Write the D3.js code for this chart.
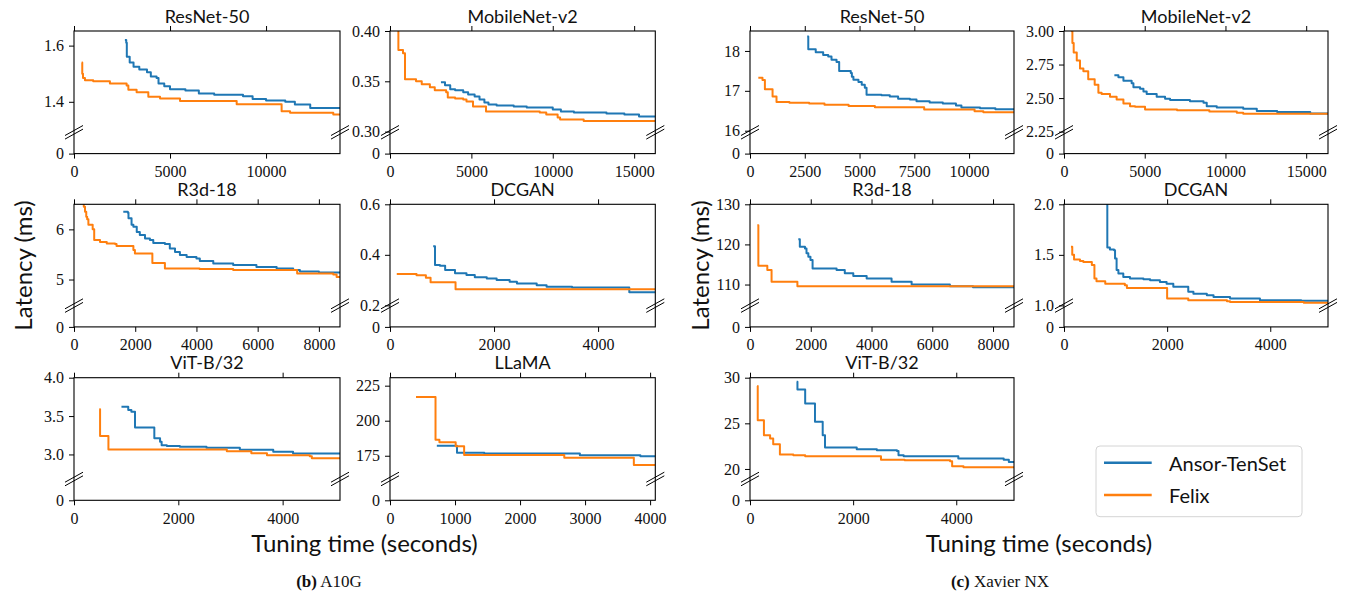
<!DOCTYPE html>
<html><head><meta charset="utf-8">
<script src="https://cdn.jsdelivr.net/npm/d3@7"></script>
<style>body{margin:0;background:#fff}</style>
</head><body>
<svg id="chart" width="1348" height="597"></svg>
<script>
// ---------------- data ----------------
const seriesNames = ["Ansor-TenSet", "Felix"];
const seriesColors = ["#1f77b4", "#ff7f0e"];
const modelTitles = ["ResNet-50","MobileNet-v2","R3d-18","DCGAN","ViT-B/32","LLaMA",
                     "ResNet-50","MobileNet-v2","R3d-18","DCGAN","ViT-B/32"];
const yAxisTitle = "Latency (ms)";
const xAxisTitle = "Tuning time (seconds)";
const captionBold = ["(b)", "(c)"];
const captionText = [" A10G", " Xavier NX"];

// A10G
const a10gResnetAnsor = [[2650,1.62],[2720,1.61],[2750,1.56],[2900,1.54],[3100,1.525],[3400,1.515],[3800,1.505],[4000,1.49],[4300,1.485],[4400,1.465],[4700,1.455],[5000,1.445],[5800,1.44],[6500,1.43],[7300,1.425],[8800,1.42],[9300,1.41],[10000,1.405],[11000,1.40],[11500,1.39],[12300,1.378],[13850,1.376]];
const a10gResnetFelix = [[400,1.54],[430,1.50],[470,1.485],[570,1.477],[1000,1.473],[1870,1.465],[2740,1.458],[2830,1.443],[3260,1.434],[3870,1.418],[4480,1.412],[5520,1.403],[8470,1.391],[10810,1.366],[11250,1.361],[13500,1.355],[13850,1.355]];
const a10gMobileAnsor = [[3130,0.349],[3380,0.346],[3700,0.342],[4000,0.341],[4500,0.339],[4800,0.337],[5200,0.335],[5500,0.332],[5800,0.329],[6050,0.327],[6550,0.326],[7600,0.325],[8400,0.324],[10000,0.322],[10500,0.320],[11300,0.319],[13300,0.318],[14400,0.317],[15300,0.315],[16300,0.3145]];
const a10gMobileFelix = [[505,0.45],[515,0.381],[800,0.378],[920,0.352],[1600,0.350],[1950,0.347],[2450,0.344],[2750,0.341],[3450,0.339],[3550,0.334],[4000,0.333],[4500,0.332],[4700,0.330],[5100,0.325],[5900,0.320],[9200,0.319],[9600,0.317],[10300,0.314],[10450,0.312],[11900,0.3105],[16300,0.3105]];
const a10gR3dAnsor = [[1610,6.35],[1760,6.33],[1780,6.22],[1880,6.09],[1940,6.05],[2050,5.95],[2150,5.89],[2320,5.82],[2480,5.79],[2590,5.73],[2970,5.71],[3130,5.62],[3300,5.55],[3460,5.49],[3680,5.45],[4000,5.42],[4110,5.37],[4550,5.32],[5200,5.29],[5960,5.25],[6620,5.22],[7160,5.19],[7380,5.16],[8000,5.14],[8690,5.14]];
const a10gR3dFelix = [[300,6.7],[320,6.45],[360,6.35],[400,6.25],[430,6.2],[470,6.09],[610,6.0],[660,5.79],[850,5.75],[1070,5.72],[1340,5.71],[1390,5.67],[1940,5.59],[1990,5.52],[2560,5.33],[2970,5.22],[4100,5.21],[5200,5.19],[7290,5.12],[8470,5.10],[8580,5.05],[8690,5.04]];
const a10gDcganAnsor = [[830,0.434],[865,0.36],[960,0.357],[1060,0.34],[1250,0.327],[1470,0.32],[1630,0.311],[1860,0.306],[2050,0.30],[2300,0.293],[2440,0.286],[2820,0.28],[3010,0.274],[3500,0.271],[4600,0.252],[5100,0.252]];
const a10gDcganFelix = [[130,0.324],[510,0.319],[690,0.309],[780,0.291],[1260,0.264],[5100,0.264]];
const a10gVitAnsor = [[910,3.62],[1040,3.58],[1100,3.555],[1170,3.35],[1540,3.21],[1650,3.165],[1680,3.12],[1780,3.11],[2030,3.10],[2540,3.087],[3180,3.06],[3820,3.035],[4200,3.012],[5100,3.005]];
const a10gVitFelix = [[485,3.59],[500,3.24],[660,3.065],[2930,3.04],[3400,3.015],[3700,2.99],[4520,2.975],[4560,2.95],[5100,2.95]];
const a10gLlamaAnsor = [[720,182.2],[1030,177.1],[1450,176.6],[2920,175.3],[3850,174.6],[4080,174.3]];
const a10gLlamaFelix = [[400,217],[700,186.5],[760,184.7],[1010,181.8],[1140,175.5],[2680,173.6],[3750,168.4],[4080,168.4]];
// Xavier NX
const xavResnetAnsor = [[2610,18.36],[2660,18.04],[3000,17.97],[3340,17.9],[3570,17.86],[3720,17.78],[3950,17.72],[4070,17.5],[4600,17.45],[4650,17.35],[4720,17.28],[4950,17.22],[5100,17.15],[5240,17.08],[5320,16.9],[6000,16.89],[6380,16.86],[6760,16.8],[7300,16.78],[7600,16.74],[8200,16.71],[8800,16.68],[9400,16.63],[9650,16.58],[10500,16.56],[11200,16.54],[12050,16.54]];
const xavResnetFelix = [[380,17.33],[570,17.27],[680,17.04],[1030,16.86],[1210,16.72],[1800,16.7],[2700,16.68],[3400,16.65],[4500,16.62],[5700,16.59],[7950,16.53],[10250,16.49],[10650,16.46],[12050,16.46]];
const xavMobileAnsor = [[3120,2.67],[3370,2.655],[3680,2.63],[4190,2.61],[4300,2.58],[4710,2.57],[4920,2.55],[5120,2.53],[5740,2.51],[6260,2.495],[6570,2.485],[7800,2.477],[8640,2.465],[8840,2.44],[9460,2.43],[11100,2.42],[11940,2.403],[13200,2.396],[15250,2.386],[16350,2.383]];
const xavMobileFelix = [[470,3.3],[480,3.0],[520,2.91],[600,2.84],[790,2.78],[990,2.72],[1200,2.70],[1500,2.64],[1900,2.60],[2130,2.54],[2330,2.53],[2850,2.51],[3260,2.49],[3680,2.46],[4090,2.44],[4400,2.435],[5020,2.415],[7000,2.41],[9000,2.40],[10700,2.39],[11100,2.383],[16350,2.376]];
const xavR3dAnsor = [[1590,121.3],[1640,119.4],[1810,119.0],[1860,117.8],[1920,116.9],[1990,116.1],[2060,114.0],[2850,113.6],[3120,112.8],[3400,112.1],[3840,111.5],[4660,110.7],[5320,110.0],[6580,109.6],[7340,109.3],[8690,109.3]];
const xavR3dFelix = [[240,124.8],[275,114.7],[570,113.6],[710,110.7],[1560,109.6],[8690,109.6]];
const xavDcganAnsor = [[828,2.6],[840,1.573],[890,1.553],[970,1.546],[990,1.464],[1020,1.35],[1055,1.315],[1150,1.282],[1280,1.265],[1540,1.259],[1670,1.249],[1860,1.232],[1990,1.215],[2120,1.185],[2410,1.135],[2510,1.116],[2770,1.10],[2900,1.083],[3220,1.067],[3800,1.05],[4600,1.045],[5120,1.04]];
const xavDcganFelix = [[135,1.58],[160,1.50],[195,1.455],[310,1.44],[375,1.43],[540,1.40],[590,1.265],[630,1.24],[800,1.215],[1180,1.20],[1220,1.172],[2000,1.067],[2410,1.05],[3160,1.04],[3220,1.033],[4650,1.027],[5120,1.025]];
const xavVitAnsor = [[905,29.56],[920,28.72],[1070,27.18],[1260,25.17],[1410,23.7],[1455,22.34],[2070,22.16],[2460,22.05],[2850,21.98],[2880,21.5],[2980,21.4],[4040,21.14],[4920,21.0],[5020,20.77],[5120,20.7]];
const xavVitFelix = [[140,29.1],[150,25.35],[270,23.7],[390,23.33],[450,22.7],[580,21.58],[840,21.5],[1070,21.4],[2540,21.0],[3000,20.95],[3880,20.85],[3920,20.3],[4140,20.2],[5120,20.2]];

// tick labels per panel (same order as modelTitles)
const xTickLabels = [
  ["0","5000","10000"], ["0","5000","10000","15000"], ["0","2000","4000","6000","8000"],
  ["0","2000","4000"], ["0","2000","4000"], ["0","1000","2000","3000","4000"],
  ["0","2500","5000","7500","10000"], ["0","5000","10000","15000"], ["0","2000","4000","6000","8000"],
  ["0","2000","4000"], ["0","2000","4000"]];
const yTickLabels = [
  ["1.4","1.6"], ["0.30","0.35","0.40"], ["5","6"], ["0.2","0.4","0.6"], ["3.0","3.5","4.0"], ["175","200","225"],
  ["16","17","18"], ["2.25","2.50","2.75","3.00"], ["110","120","130"], ["1.0","1.5","2.0"], ["20","25","30"]];
const xMax = [13850, 16300, 8690, 5100, 5100, 4080, 12050, 16350, 8690, 5120, 5120];
const yLow  = [1.2915, 0.2993, 4.48, 0.199, 2.68, 158.4, 15.96, 2.245, 104.75, 0.998, 18.9];
const yHigh = [1.652, 0.400, 6.50, 0.600, 4.00, 230.7, 18.50, 3.000, 130.0, 2.000, 30.0];
const ansorSeries = [a10gResnetAnsor,a10gMobileAnsor,a10gR3dAnsor,a10gDcganAnsor,a10gVitAnsor,a10gLlamaAnsor,
                     xavResnetAnsor,xavMobileAnsor,xavR3dAnsor,xavDcganAnsor,xavVitAnsor];
const felixSeries = [a10gResnetFelix,a10gMobileFelix,a10gR3dFelix,a10gDcganFelix,a10gVitFelix,a10gLlamaFelix,
                     xavResnetFelix,xavMobileFelix,xavR3dFelix,xavDcganFelix,xavVitFelix];

// ---------------- layout ----------------
const colX = [[74,340],[390,655.3],[750,1014],[1064,1328]];
const rowTop = [31, 204.3, 377.7];
const upperH = 101.3, totalH = 122.6;
const panelCol = [0,1,0,1,0,1,2,3,2,3,2];
const panelRow = [0,0,1,1,2,2,0,0,1,1,2];

const svg = d3.select("#chart");
const serif = "'Liberation Serif', 'Times New Roman', serif";
const sans = "Lato, 'Liberation Sans', sans-serif";

function breakMark(g, x, y) {
  [-1.8, 1.8].forEach(off => {
    g.append("line").attr("x1", x-9).attr("y1", y+off+5).attr("x2", x+9).attr("y2", y+off-5)
      .attr("stroke","#000").attr("stroke-width",1);
  });
}

modelTitles.forEach((title, i) => {
  const [x0, x1] = colX[panelCol[i]];
  const top = rowTop[panelRow[i]];
  const brk = top + upperH, bot = top + totalH;
  const g = svg.append("g");
  const x = d3.scaleLinear().domain([0, xMax[i]]).range([x0, x1]);
  const y = d3.scaleLinear().domain([yLow[i], yHigh[i]]).range([brk, top]);
  const y0 = d3.scaleLinear().domain([0, 1]).range([bot, brk]);

  const clipId = "clip" + i;
  svg.append("clipPath").attr("id", clipId).append("rect")
    .attr("x", x0).attr("y", top).attr("width", x1-x0).attr("height", upperH);

  const line = d3.line().x(d => x(d[0])).y(d => y(d[1])).curve(d3.curveStepAfter);
  [ansorSeries[i], felixSeries[i]].forEach((s, k) => {
    g.append("path").datum(s).attr("d", line).attr("fill","none")
      .attr("stroke", seriesColors[k]).attr("stroke-width", 2)
      .attr("stroke-linejoin","round").attr("clip-path", `url(#${clipId})`);
  });

  const xt = xTickLabels[i].map(Number);
  const yt = yTickLabels[i].map(Number);
  // top ticks (no labels)
  const ga = g.append("g").attr("transform", `translate(0,${top})`)
    .call(d3.axisTop(x).tickValues(xt).tickSize(5).tickSizeOuter(0).tickFormat(""));
  ga.select(".domain").remove();
  // bottom ticks with labels
  const gb = g.append("g").attr("transform", `translate(0,${bot})`)
    .call(d3.axisBottom(x).tickValues(xt).tickSize(5).tickSizeOuter(0).tickPadding(7)
      .tickFormat((d, j) => xTickLabels[i][j]));
  gb.select(".domain").remove();
  // upper y axis
  const gl = g.append("g").attr("transform", `translate(${x0},0)`)
    .call(d3.axisLeft(y).tickValues(yt).tickSize(5).tickSizeOuter(0).tickPadding(5)
      .tickFormat((d, j) => yTickLabels[i][j]));
  gl.select(".domain").remove();
  // lower y axis (zero)
  const gz = g.append("g").attr("transform", `translate(${x0},0)`)
    .call(d3.axisLeft(y0).tickValues([0]).tickSize(5).tickSizeOuter(0).tickPadding(5).tickFormat(d3.format("d")));
  gz.select(".domain").remove();

  g.selectAll(".tick text").attr("font-family", serif).attr("font-size", 16).attr("fill","#111");
  g.selectAll(".tick line").attr("stroke","#000");

  // frame
  g.append("rect").attr("x", x0).attr("y", top).attr("width", x1-x0).attr("height", totalH)
    .attr("fill","none").attr("stroke","#000").attr("stroke-width",1.1);
  breakMark(g, x0, brk);
  breakMark(g, x1, brk);

  g.append("text").attr("x", (x0+x1)/2).attr("y", top - 8.5).attr("text-anchor","middle")
    .attr("font-family", sans).attr("font-size", 18).attr("fill","#111").text(title);
});

// axis titles and captions
const groupCenters = [364.5, 1039];
const captionCenters = [329, 1000];
const yTitleX = [22, 699];
[0,1].forEach(k => {
  svg.append("text").attr("transform", `translate(${yTitleX[k]},265.5) rotate(-90)`)
    .attr("text-anchor","middle").attr("dominant-baseline","central")
    .attr("font-family", sans).attr("font-size", 24).attr("fill","#111").text(yAxisTitle);
  svg.append("text").attr("x", groupCenters[k]).attr("y", 552).attr("text-anchor","middle")
    .attr("font-family", sans).attr("font-size", 24).attr("fill","#111").text(xAxisTitle);
  const cap = svg.append("text").attr("x", captionCenters[k]).attr("y", 587).attr("text-anchor","middle")
    .attr("font-family", serif).attr("font-size", 17).attr("fill","#111");
  cap.append("tspan").attr("font-weight","bold").text(captionBold[k]);
  cap.append("tspan").text(captionText[k]);
});

// legend
const lg = svg.append("g");
lg.append("rect").attr("x",1096).attr("y",446).attr("width",206).attr("height",70.7).attr("rx",4)
  .attr("fill","#fff").attr("stroke","#d4d4d4").attr("stroke-width",1);
seriesNames.forEach((n, k) => {
  const yy = 462.7 + k*32.3;
  lg.append("line").attr("x1",1104).attr("x2",1151.7).attr("y1",yy).attr("y2",yy)
    .attr("stroke", seriesColors[k]).attr("stroke-width",2.5);
  lg.append("text").attr("x",1169).attr("y",yy).attr("dominant-baseline","central")
    .attr("font-family", sans).attr("font-size", 20).attr("fill","#111").text(n);
});
</script>
</body></html>
